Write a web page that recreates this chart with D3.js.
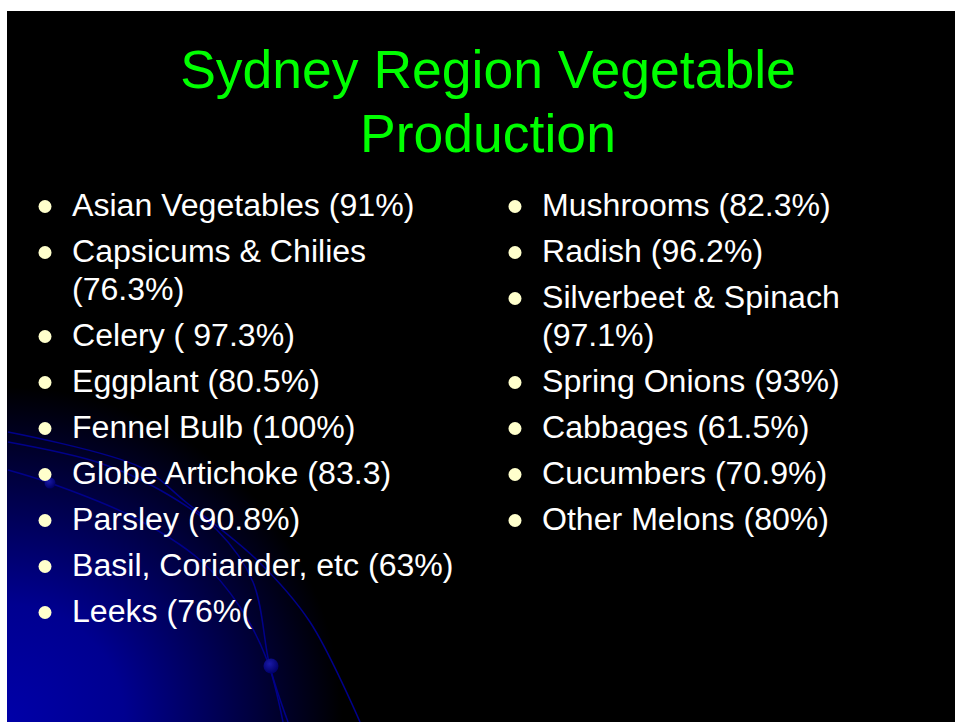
<!DOCTYPE html>
<html>
<head>
<meta charset="utf-8">
<script src="https://cdn.jsdelivr.net/npm/d3@7"></script>
<style>
  html, body { margin: 0; padding: 0; background: #fff; }
  svg { display: block; }
</style>
</head>
<body>
<div id="slide"></div>
<script>
// slide content
const titleLines = ["Sydney Region Vegetable", "Production"];

const leftCrops = ["Asian Vegetables", "Capsicums & Chilies", "Celery", "Eggplant", "Fennel Bulb",
  "Globe Artichoke", "Parsley", "Basil, Coriander, etc", "Leeks"];
const leftShares = ["(91%)", "(76.3%)", "( 97.3%)", "(80.5%)", "(100%)", "(83.3)", "(90.8%)", "(63%)", "(76%("];

const rightCrops = ["Mushrooms", "Radish", "Silverbeet & Spinach", "Spring Onions", "Cabbages",
  "Cucumbers", "Other Melons"];
const rightShares = ["(82.3%)", "(96.2%)", "(97.1%)", "(93%)", "(61.5%)", "(70.9%)", "(80%)"];

const width = 955, height = 722;
const font = "'Liberation Sans', Arial, sans-serif";
const bodySize = 32.1;

const svg = d3.select("#slide").append("svg")
  .attr("width", width)
  .attr("height", height);

const defs = svg.append("defs");
const glow = defs.append("radialGradient")
  .attr("id", "glow")
  .attr("gradientUnits", "userSpaceOnUse")
  .attr("cx", 7).attr("cy", 722).attr("r", 335);
glow.append("stop").attr("offset", "0%").attr("stop-color", "#0000a8");
glow.append("stop").attr("offset", "35%").attr("stop-color", "#000090");
glow.append("stop").attr("offset", "75%").attr("stop-color", "#00003a");
glow.append("stop").attr("offset", "100%").attr("stop-color", "#000000");

const ball = defs.append("radialGradient").attr("id", "ball")
  .attr("cx", "40%").attr("cy", "35%").attr("r", "65%");
ball.append("stop").attr("offset", "0%").attr("stop-color", "#1a1aa8");
ball.append("stop").attr("offset", "100%").attr("stop-color", "#000068");

// black slide background
svg.append("rect")
  .attr("x", 7).attr("y", 11)
  .attr("width", width - 7).attr("height", height - 11)
  .attr("fill", "#000");

svg.append("rect")
  .attr("x", 7).attr("y", 11)
  .attr("width", width - 7).attr("height", height - 11)
  .attr("fill", "url(#glow)");

// decorative swoosh lines in the corner
const swooshes = [
  [[8, 432], [140, 467], [187, 503], [257, 560], [310, 622], [360, 722]],
  [[8, 442], [100, 463], [160, 490], [217, 530], [253, 582], [270, 667], [288, 722]],
  [[8, 470], [50, 483], [133, 517], [200, 560], [240, 607], [267, 660], [283, 722]]
];
const curve = d3.line().curve(d3.curveCatmullRom.alpha(0.5));

svg.append("g").selectAll("path")
  .data(swooshes)
  .join("path")
    .attr("d", curve)
    .attr("fill", "none")
    .attr("stroke", "#00008a")
    .attr("stroke-width", 1.5);

svg.append("g").selectAll("circle")
  .data([[50, 483, 5.5], [271, 666, 7.5]])
  .join("circle")
    .attr("cx", d => d[0])
    .attr("cy", d => d[1])
    .attr("r", d => d[2])
    .attr("fill", "url(#ball)");

// title
svg.append("g").selectAll("text")
  .data(titleLines)
  .join("text")
    .attr("x", 488)
    .attr("y", (d, i) => 88 + i * 64)
    .attr("text-anchor", "middle")
    .attr("font-family", font)
    .attr("font-size", 53.5)
    .attr("fill", "#00ff00")
    .text(d => d);

// bullet columns: wrap on measured width
function column(crops, shares, bulletX, textX, maxW) {
  const g = svg.append("g");
  let y = 216;
  crops.forEach((crop, i) => {
    const words = (crop + " " + shares[i]).split(" ");
    const lines = [];
    let line = "";
    const probe = g.append("text")
      .attr("font-family", font).attr("font-size", bodySize);
    words.forEach(w => {
      const test = line ? line + " " + w : w;
      probe.text(test);
      if (line && probe.node().getComputedTextLength() > maxW) {
        lines.push(line);
        line = w;
      } else {
        line = test;
      }
    });
    lines.push(line);
    probe.remove();

    g.append("circle")
      .attr("cx", bulletX)
      .attr("cy", y - 9.5)
      .attr("r", 6.5)
      .attr("fill", "#ffffcc");

    lines.forEach((l, j) => {
      g.append("text")
        .attr("x", textX)
        .attr("y", y + j * 38)
        .attr("font-family", font)
        .attr("font-size", bodySize)
        .attr("fill", "#fff")
        .text(l);
    });
    y += (lines.length - 1) * 38 + 46;
  });
}

column(leftCrops, leftShares, 45, 72, 400);
column(rightCrops, rightShares, 515, 542, 400);
</script>
</body>
</html>
